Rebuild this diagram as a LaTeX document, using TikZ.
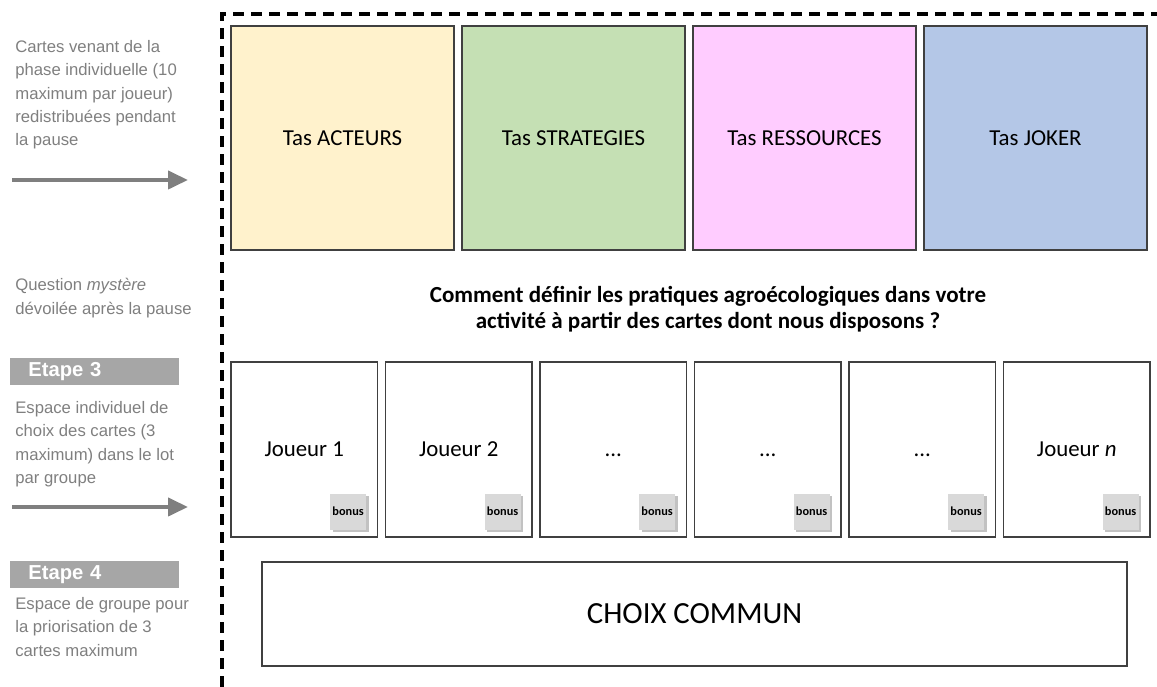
\documentclass[tikz,border=0pt]{standalone}
\usepackage{fontspec}
\setmainfont{Carlito}
\newfontfamily\arialfont{Liberation Sans}
\usetikzlibrary{positioning,arrows.meta,shadows}
\definecolor{tasjaune}{HTML}{FFF2CC}
\definecolor{tasvert}{HTML}{C5E0B4}
\definecolor{tasrose}{HTML}{FFCCFF}
\definecolor{tasbleu}{HTML}{B4C7E7}
\definecolor{notegris}{HTML}{7F7F7F}
\definecolor{barregris}{HTML}{A6A6A6}
\begin{document}
\begin{tikzpicture}[
    tas/.style={draw=black!75, line width=0.8pt, minimum width=4.46cm, minimum height=4.48cm,
      inner sep=0pt, outer sep=0pt, font=\fontsize{13}{15}\selectfont},
    joueur/.style={draw=black!75, line width=0.8pt, minimum width=2.93cm, minimum height=3.5cm,
      inner sep=0pt, outer sep=0pt, font=\fontsize{13}{15}\selectfont},
    bonus/.style={fill=black!15, minimum size=0.72cm, inner sep=0pt,
      font=\bfseries\fontsize{7}{8}\selectfont,
      drop shadow={shadow xshift=0.05cm, shadow yshift=-0.05cm, fill=black!40, opacity=0.6}},
    note/.style={anchor=north west, align=left, inner sep=0pt, text=notegris,
      font=\arialfont\fontsize{9.5}{13.3}\selectfont},
    etape/.style={fill=barregris, anchor=west, minimum height=0.54cm, text width=2.66cm,
      inner xsep=0.36cm, inner ysep=0pt, align=left, text=white,
      font=\arialfont\bfseries\fontsize{11.5}{13}\selectfont},
    fleche/.style={draw=notegris, line width=2.3pt, -{Triangle[length=0.4cm,width=0.36cm]}},
    cadre/.style={line width=2pt, dash pattern=on 0.22cm off 0.14cm},
  ]
        \useasboundingbox (0,0) rectangle (23.14,13.74);
        %% dashed play area
        \draw[cadre] (4.44,0) -- (4.44,13.46) -- (23.14,13.46);

        %% piles of cards
        \node[tas, fill=tasjaune] (acteurs) at (6.85,10.98) {Tas ACTEURS};
        \node[tas, fill=tasvert, right=0.16cm of acteurs] (strategies) {Tas STRATEGIES};
        \node[tas, fill=tasrose, right=0.16cm of strategies] (ressources) {Tas RESSOURCES};
        \node[tas, fill=tasbleu, right=0.16cm of ressources] (joker) {Tas JOKER};

        %% mystery question
        \node[align=center, font=\bfseries\fontsize{13.1}{14.8}\selectfont] (question) at (14.16,7.56)
          {Comment définir les pratiques agroécologiques dans votre\\
           activité à partir des cartes dont nous disposons ?};

        %% players
        \node[joueur] (j1) at (6.085,4.75) {Joueur 1};
        \node[joueur, right=0.16cm of j1] (j2) {Joueur 2};
        \node[joueur, right=0.16cm of j2] (j3) {\vphantom{J}...};
        \node[joueur, right=0.16cm of j3] (j4) {\vphantom{J}...};
        \node[joueur, right=0.16cm of j4] (j5) {\vphantom{J}...};
        \node[joueur, right=0.16cm of j5] (j6) {Joueur \textit{n}};
        \foreach \j in {1,...,6}
          \node[bonus, above left=0.14cm and 0.22cm of j\j.south east, anchor=south east] (b\j) {bonus};

        %% common choice
        \node[draw=black!75, line width=0.8pt, minimum width=17.3cm, minimum height=2.08cm,
          font=\fontsize{17.5}{20}\selectfont] (choix) at (13.89,1.46) {CHOIX COMMUN};

        %% left notes
        \node[note] (n1) at (0.3,12.94) {Cartes venant de la\\phase individuelle (10\\maximum par joueur)\\redistribuées pendant\\la pause};
        \coordinate (f1a) at (0.24,10.14);
        \coordinate (f1b) at (3.76,10.14);
        \draw[fleche] (f1a) -- (f1b);

        \node[note] (n2) at (0.3,8.18) {Question \textit{mystère}\\dévoilée après la pause};

        \node[etape] (e3) at (0.2,6.31) {Etape 3};
        \node[note] (n3) at (0.3,5.72) {Espace individuel de\\choix des cartes (3\\maximum) dans le lot\\par groupe};
        \coordinate (f2a) at (0.24,3.6);
        \coordinate (f2b) at (3.76,3.6);
        \draw[fleche] (f2a) -- (f2b);

        \node[etape] (e4) at (0.2,2.25) {Etape 4};
        \node[note] (n4) at (0.3,1.8) {Espace de groupe pour\\la priorisation de 3\\cartes maximum};
\end{tikzpicture}
\end{document}
